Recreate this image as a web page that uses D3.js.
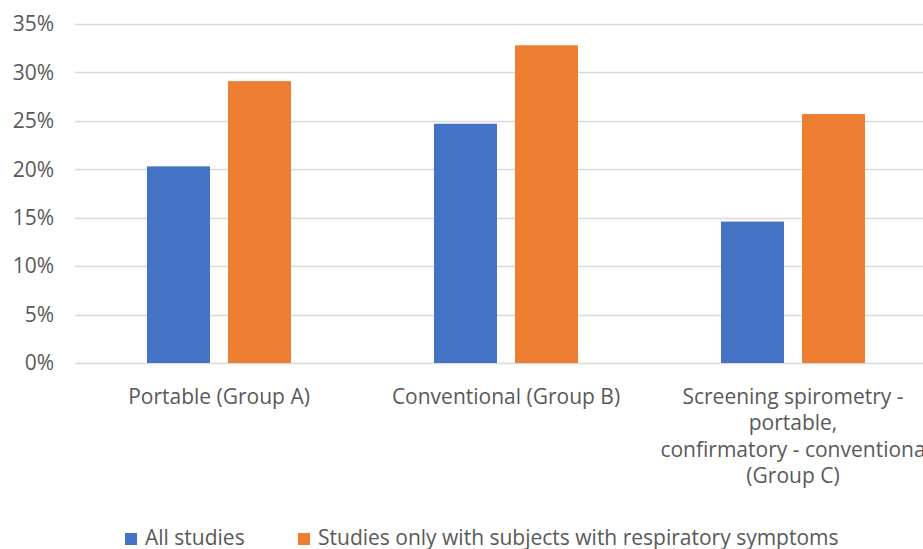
<!DOCTYPE html>
<html><head><meta charset="utf-8">
<script src="https://cdn.jsdelivr.net/npm/d3@7"></script>
<style>body{margin:0;background:#fff;overflow:hidden}svg{display:block}</style>
</head><body>
<script>
const categories = [
  ["Portable (Group A)"],
  ["Conventional (Group B)"],
  ["Screening spirometry -", "portable,", "confirmatory - conventiona", "(Group C)"]
];
const categoryKeys = ["A", "B", "C"];
const seriesNames = ["All studies", "Studies only with subjects with respiratory symptoms"];
const allStudies = [0.203, 0.247, 0.146];
const symptomatic = [0.291, 0.328, 0.257];
const yTicks = [0, 0.05, 0.10, 0.15, 0.20, 0.25, 0.30, 0.35];
const colors = ["#4472C4", "#ED7D31"];

const W = 923, H = 549;
const svg = d3.select("body").append("svg").attr("width", W).attr("height", H);
const font = "'Open Sans', sans-serif";
const fs = 21;

const y = d3.scaleLinear().domain([0, 0.35]).range([363, 24]);
const x0 = d3.scaleBand().domain(categoryKeys).range([75.5, 936.5]).padding(0);
const x1 = d3.scaleBand().domain([0, 1]).range([0, 162]).paddingInner(0.2222).paddingOuter(0.1111);

// gridlines
svg.append("g").selectAll("line").data(yTicks).join("line")
  .attr("x1", 75).attr("x2", 936)
  .attr("y1", d => Math.round(y(d)) + 0.5).attr("y2", d => Math.round(y(d)) + 0.5)
  .attr("stroke", "#d9d9d9").attr("stroke-width", 1.5);

// y axis labels
const yAxis = d3.axisLeft(y).tickValues(yTicks).tickFormat(d3.format(".0%")).tickSize(0).tickPadding(0);
const ya = svg.append("g").attr("transform", "translate(54,0)").call(yAxis);
ya.select(".domain").remove();
ya.selectAll("text").attr("font-family", font).attr("font-size", fs).attr("fill", "#595959");

// bars
const rows = categoryKeys.map((k, i) => ({ key: k, vals: [allStudies[i], symptomatic[i]] }));
const g = svg.append("g").selectAll("g").data(rows).join("g")
  .attr("transform", d => `translate(${x0(d.key) + x0.bandwidth() / 2 - 81},0)`);
g.selectAll("rect").data(d => d.vals.map((v, s) => ({ v, s }))).join("rect")
  .attr("x", d => x1(d.s)).attr("width", x1.bandwidth())
  .attr("y", d => y(d.v)).attr("height", d => y(0) - y(d.v))
  .attr("fill", d => colors[d.s]);

// x labels
const xl = svg.append("g").selectAll("text").data(categoryKeys).join("text")
  .attr("x", d => x0(d) + x0.bandwidth() / 2)
  .attr("y", 404)
  .attr("text-anchor", "middle")
  .attr("font-family", font).attr("font-size", fs).attr("fill", "#595959");
xl.each(function (d, i) {
  d3.select(this).selectAll("tspan").data(categories[i]).join("tspan")
    .attr("x", x0(d) + x0.bandwidth() / 2)
    .attr("dy", (t, j) => j === 0 ? 0 : 26.3)
    .text(t => t);
});

// legend
const legX = [125, 298];
const leg = svg.append("g").selectAll("g").data(seriesNames).join("g")
  .attr("transform", (d, i) => `translate(${legX[i]},533)`);
leg.append("rect").attr("width", 12).attr("height", 12).attr("fill", (d, i) => colors[i]);
leg.append("text").attr("x", 20).attr("y", 11.5)
  .attr("font-family", font).attr("font-size", fs).attr("fill", "#595959")
  .text(d => d);
</script>
</body></html>
